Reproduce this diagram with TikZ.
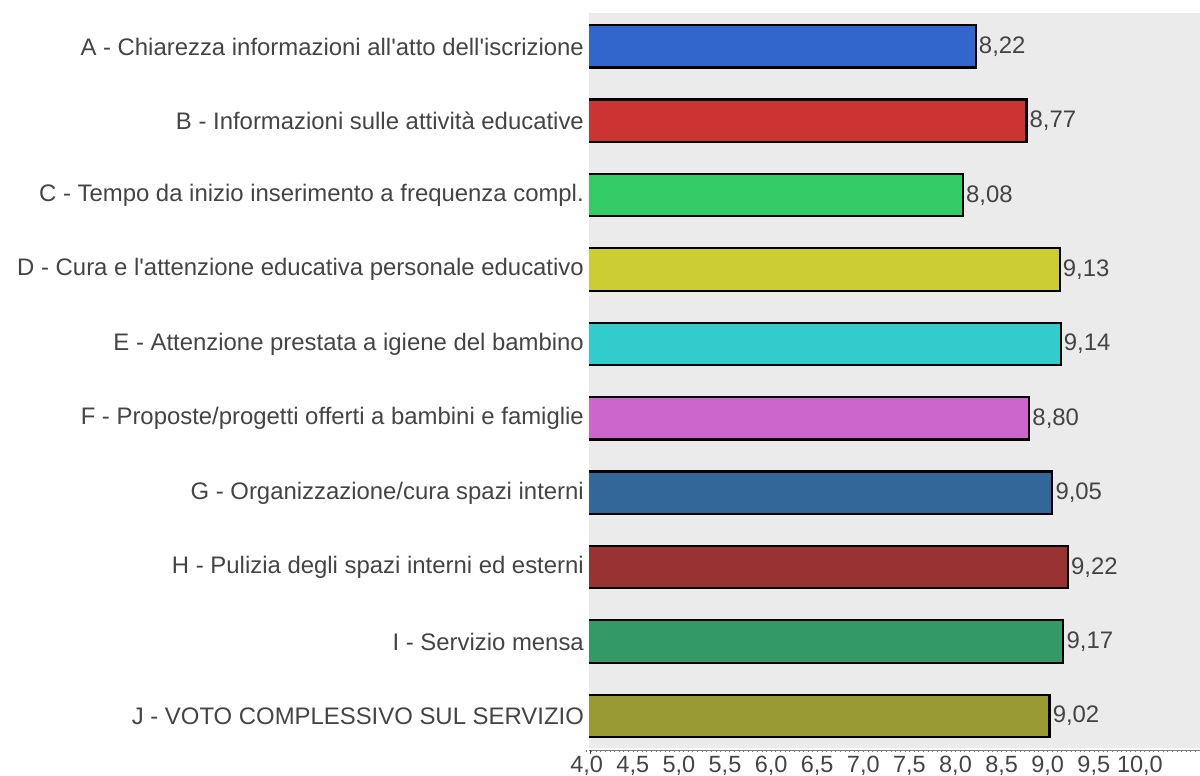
\documentclass[tikz,border=0pt]{standalone}
\usepackage{fontspec}
\setmainfont{Liberation Sans}[Ligatures=TeXOff]
\definecolor{txt}{HTML}{444444}
\definecolor{plotbg}{HTML}{EBEBEB}
\definecolor{cA}{HTML}{3366CC}
\definecolor{cB}{HTML}{CC3333}
\definecolor{cC}{HTML}{33CC66}
\definecolor{cD}{HTML}{CCCC33}
\definecolor{cE}{HTML}{33CCCC}
\definecolor{cF}{HTML}{CC66CC}
\definecolor{cG}{HTML}{336699}
\definecolor{cH}{HTML}{993333}
\definecolor{cI}{HTML}{339966}
\definecolor{cJ}{HTML}{999933}
\tikzset{
  catlabel/.style={anchor=east, text=txt, font=\fontsize{23.9}{26}\selectfont, inner sep=0pt},
  vallabel/.style={anchor=west, text=txt, font=\fontsize{23.9}{26}\selectfont, inner sep=0pt},
  ticklabel/.style={anchor=center, text=txt, font=\fontsize{23.5}{26}\selectfont, inner sep=0pt},
  barborder/.style={draw=black, line width=2.2pt},
}
\begin{document}
\begin{tikzpicture}[x=1pt,y=-1pt]
\useasboundingbox (0,0) rectangle (1200,776);
\fill[plotbg] (589,12.7) rectangle (1200,748);
\foreach \n/\v/\vt/\c/\t [count=\i from 0] in {
  A/8.22/8{,}22/cA/{A - Chiarezza informazioni all'atto dell'iscrizione},
  B/8.77/8{,}77/cB/{B - Informazioni sulle attività educative},
  C/8.08/8{,}08/cC/{C - Tempo da inizio inserimento a frequenza compl.},
  D/9.13/9{,}13/cD/{D - Cura e l'attenzione educativa personale educativo},
  E/9.14/9{,}14/cE/{E - Attenzione prestata a igiene del bambino},
  F/8.80/8{,}80/cF/{F - Proposte/progetti offerti a bambini e famiglie},
  G/9.05/9{,}05/cG/{G - Organizzazione/cura spazi interni},
  H/9.22/9{,}22/cH/{H - Pulizia degli spazi interni ed esterni},
  I/9.17/9{,}17/cI/{I - Servizio mensa},
  J/9.02/9{,}02/cJ/{J - VOTO COMPLESSIVO SUL SERVIZIO}} {
  \pgfmathsetmacro{\top}{25+74.4*\i}
  \pgfmathsetmacro{\bot}{\top+42.5}
  \pgfmathsetmacro{\mid}{\top+21.5}
  \pgfmathsetmacro{\xe}{586.7+92.2*(\v-4)}
  \fill[\c] (589,\top) rectangle (\xe,\bot);
  \draw[barborder] (589,\top) -- (\xe,\top) -- (\xe,\bot) -- (589,\bot);
  \node[catlabel] (lab\n) at (584,\mid) {\t};
  \node[vallabel] (val\n) at (\xe+3,\mid) {\vt};
}
% axis
\draw[txt!70, line width=0.6pt] (589,750) -- (1200,750);
\foreach \k in {0,...,132} {
  \draw[txt!70, line width=0.5pt] ({586.7+4.61*\k},750) -- ({586.7+4.61*\k},752);
}
\draw[txt, line width=0.8pt] (590,750) -- (590,754);
\foreach \lab [count=\j from 0] in {4{,}0,4{,}5,5{,}0,5{,}5,6{,}0,6{,}5,7{,}0,7{,}5,8{,}0,8{,}5,9{,}0,9{,}5,10{,}0} {
  \node[ticklabel] (tick\j) at ({586.7+46.1*\j},766) {\lab};
}
\end{tikzpicture}
\end{document}
